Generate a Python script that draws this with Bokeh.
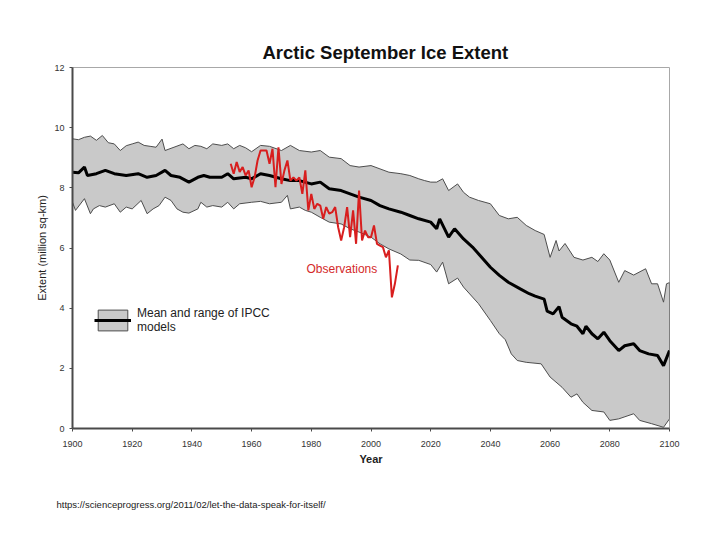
from bokeh.plotting import figure
from bokeh.models import Range1d, Legend, LegendItem, Label, Title, FixedTicker
from bokeh.embed import file_html
from bokeh.resources import INLINE

# ---------------- data ----------------
upper_years = [1900, 1902, 1904, 1906, 1908, 1910, 1912, 1914, 1916, 1918, 1920, 1922, 1924, 1926,
               1928, 1930, 1931, 1934, 1937, 1939, 1941, 1943, 1945, 1947, 1950, 1952, 1954, 1956,
               1958, 1960, 1963, 1966, 1970, 1973, 1976, 1980, 1983, 1986, 1990, 1993, 1996, 2000,
               2003, 2006, 2010, 2013, 2016, 2018, 2020, 2022, 2024, 2026, 2029, 2031, 2033, 2036,
               2040, 2043, 2046, 2049, 2052, 2055, 2058, 2060, 2062, 2063, 2065, 2068, 2071, 2074,
               2076, 2078, 2080, 2083, 2085, 2088, 2092, 2094, 2096, 2098, 2099, 2100]
upper_vals = [9.63, 9.60, 9.68, 9.72, 9.58, 9.74, 9.50, 9.46, 9.24, 9.40, 9.46, 9.52, 9.41, 9.38,
              9.35, 9.62, 9.24, 9.35, 9.46, 9.30, 9.41, 9.38, 9.30, 9.46, 9.41, 9.46, 9.30, 9.41,
              9.33, 9.20, 9.41, 9.38, 9.24, 9.41, 9.24, 9.19, 9.24, 9.02, 8.97, 8.74, 8.69, 8.74,
              8.63, 8.52, 8.47, 8.41, 8.30, 8.24, 8.19, 8.19, 8.30, 7.91, 8.13, 7.85, 7.69, 7.58,
              7.47, 7.08, 6.97, 7.02, 6.75, 6.58, 6.45, 5.69, 6.25, 5.90, 6.15, 5.69, 5.60, 5.69,
              5.55, 5.81, 5.60, 4.86, 5.25, 5.10, 5.31, 4.81, 4.81, 4.20, 4.81, 4.85]

lower_years = [1900, 1901, 1904, 1906, 1907, 1909, 1911, 1914, 1916, 1918, 1920, 1923, 1925, 1927,
               1929, 1931, 1933, 1935, 1937, 1939, 1942, 1943, 1945, 1947, 1950, 1952, 1954, 1956,
               1960, 1963, 1966, 1970, 1972, 1973, 1976, 1978, 1980, 1983, 1986, 1990, 1993, 1996,
               2000, 2003, 2006, 2010, 2013, 2016, 2020, 2022, 2024, 2026, 2029, 2031, 2034, 2036,
               2040, 2043, 2045, 2047, 2049, 2052, 2057, 2060, 2064, 2067, 2069, 2071, 2074, 2078,
               2080, 2083, 2088, 2090, 2094, 2098, 2100]
lower_vals = [7.52, 7.25, 7.64, 7.14, 7.30, 7.41, 7.36, 7.47, 7.19, 7.36, 7.30, 7.58, 7.14, 7.30,
              7.41, 7.69, 7.58, 7.30, 7.19, 7.16, 7.30, 7.52, 7.36, 7.41, 7.36, 7.52, 7.30, 7.47,
              7.52, 7.55, 7.47, 7.52, 7.75, 7.30, 7.36, 7.25, 7.19, 7.02, 6.86, 6.80, 6.64, 6.53,
              6.36, 6.14, 5.97, 5.80, 5.60, 5.59, 5.45, 5.20, 5.53, 4.81, 5.00, 4.70, 4.37, 4.15,
              3.59, 3.15, 2.95, 2.48, 2.26, 2.20, 2.15, 1.71, 1.37, 1.04, 1.15, 0.87, 0.60, 0.55,
              0.27, 0.32, 0.49, 0.27, 0.16, 0.04, 0.32]

mean_years = [1900, 1902, 1904, 1905, 1908, 1911, 1914, 1918, 1922, 1925, 1928, 1931, 1933, 1936,
              1939, 1942, 1944, 1946, 1950, 1952, 1954, 1958, 1960, 1963, 1966, 1970, 1973, 1976,
              1980, 1983, 1986, 1990, 1993, 1996, 2000, 2003, 2006, 2010, 2013, 2016, 2020, 2022,
              2023, 2026, 2028, 2031, 2034, 2036, 2040, 2043, 2046, 2050, 2053, 2055, 2058, 2059,
              2061, 2063, 2064, 2067, 2069, 2071, 2072, 2074, 2076, 2078, 2080, 2083, 2085, 2088,
              2090, 2093, 2096, 2098, 2100]
mean_vals = [8.52, 8.50, 8.69, 8.41, 8.47, 8.58, 8.47, 8.41, 8.47, 8.35, 8.41, 8.58, 8.41, 8.35,
             8.19, 8.35, 8.41, 8.35, 8.35, 8.47, 8.30, 8.35, 8.30, 8.47, 8.41, 8.30, 8.24, 8.24,
             8.13, 8.19, 7.97, 7.91, 7.80, 7.69, 7.58, 7.41, 7.30, 7.19, 7.08, 6.97, 6.86, 6.64,
             6.97, 6.36, 6.64, 6.30, 6.03, 5.81, 5.36, 5.09, 4.86, 4.64, 4.48, 4.40, 4.30, 3.90,
             3.81, 4.05, 3.70, 3.48, 3.40, 3.15, 3.40, 3.15, 2.98, 3.20, 2.92, 2.59, 2.75, 2.82,
             2.59, 2.48, 2.43, 2.09, 2.59]

obs_years = list(range(1953, 2010))
obs_vals = [8.80, 8.47, 8.86, 8.53, 8.69, 8.41, 8.58, 8.02, 8.35, 8.91,
            9.24, 9.24, 9.24, 8.80, 9.30, 8.02, 9.35, 8.13, 8.58, 8.91,
            8.24, 8.35, 8.24, 8.35, 7.80, 8.58, 7.25, 7.80, 7.30, 7.47,
            7.41, 6.97, 7.36, 7.14, 7.19, 7.36, 6.69, 6.25, 6.69, 7.36,
            6.36, 7.25, 6.14, 7.91, 6.25, 6.58, 6.36, 6.36, 6.75, 6.14,
            6.08, 6.03, 5.69, 5.92, 4.36, 4.81, 5.42]

x_ticks = list(range(1900, 2101, 20))
y_ticks = [0, 2, 4, 6, 8, 10, 12]

FONT = "Liberation Sans"

# ---------------- figure ----------------
p = figure(width=720, height=540, x_range=Range1d(1900, 2100), y_range=Range1d(0, 12),
           output_backend="svg", toolbar_location=None,
           min_border_left=72, min_border_right=51, min_border_top=67, min_border_bottom=112)

p.title.text = "Arctic September Ice Extent"
p.title.align = "left"
p.title.offset = 190
p.title.text_font = FONT
p.title.text_font_size = "18.5px"
p.title.text_font_style = "bold"
p.title.text_color = "#111111"
p.title.standoff = 9

p.grid.visible = False
p.outline_line_color = "#a8a8a8"
p.outline_line_width = 1
p.background_fill_color = "white"
p.border_fill_color = "white"

for ax in (p.xaxis[0], p.yaxis[0]):
    ax.axis_line_color = "#4a4a4a"
    ax.axis_line_width = 2
    ax.major_tick_line_color = "#4a4a4a"
    ax.major_tick_out = 3
    ax.major_tick_in = 0
    ax.minor_tick_line_color = None
    ax.major_label_text_font = FONT
    ax.major_label_text_font_size = "9px"
    ax.major_label_text_color = "#333333"
    ax.axis_label_text_font = FONT
    ax.axis_label_text_font_size = "11px"
    ax.axis_label_text_color = "#222222"

p.xaxis.ticker = FixedTicker(ticks=x_ticks)
p.yaxis.ticker = FixedTicker(ticks=y_ticks)
p.xaxis.major_label_standoff = 9
p.yaxis.major_label_standoff = 5
p.xaxis.axis_label = "Year"
p.xaxis.axis_label_text_font_style = "bold"
p.xaxis.axis_label_standoff = 3
p.yaxis.axis_label = "Extent (million sq-km)"
p.yaxis.axis_label_text_font_style = "normal"
p.yaxis.axis_label_standoff = 3

# band of model range
band_x = upper_years + lower_years[::-1]
band_y = upper_vals + lower_vals[::-1]
band_r = p.patch(band_x, band_y, fill_color="#c9c9c9", fill_alpha=1.0,
                 line_color="#4d4d4d", line_width=1)

mean_r = p.line(mean_years, mean_vals, line_color="black", line_width=3)
obs_r = p.line(obs_years, obs_vals, line_color="#d81e1e", line_width=2)

p.add_layout(Label(x=1978.4, y=5.29, text="Observations", text_color="#d42a2a",
                   text_font=FONT, text_font_size="12px", text_baseline="middle"))

legend = Legend(items=[LegendItem(label="Mean and range of IPCC\nmodels",
                                  renderers=[band_r, mean_r])],
                location=(22, 94), orientation="vertical",
                glyph_width=37, glyph_height=26, label_standoff=6,
                label_text_font=FONT, label_text_font_size="12px", label_text_color="#222222",
                border_line_color=None, background_fill_alpha=0, padding=0, margin=0,
                spacing=0)
p.add_layout(legend, "center")

url = Title(text="https://scienceprogress.org/2011/02/let-the-data-speak-for-itself/",
            align="left", offset=-16, standoff=59, text_font=FONT,
            text_font_size="9.5px", text_font_style="normal", text_color="#222222")
p.add_layout(url, "below")

open("out.html", "w").write(file_html(p, INLINE))
